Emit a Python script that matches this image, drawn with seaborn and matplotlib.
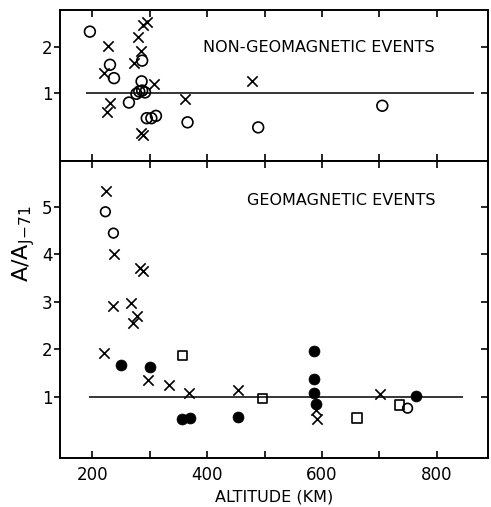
import matplotlib
matplotlib.use("Agg")
import matplotlib.pyplot as plt
import seaborn as sns
import pandas as pd

# ---------------- data ----------------
# Non-geomagnetic events (top panel)
top_cross_alt = [227, 279, 288, 295, 285, 272, 220, 307, 231, 226, 285, 289, 362, 478]
top_cross_val = [2.02, 2.22, 2.48, 2.53, 1.90, 1.65, 1.44, 1.20, 0.79, 0.59, 0.12, 0.09, 0.87, 1.25]
top_circle_alt = [196, 287, 231, 238, 286, 277, 282, 287, 292, 264, 295, 303, 311, 366, 489, 705]
top_circle_val = [2.33, 1.70, 1.61, 1.32, 1.25, 0.98, 1.03, 1.05, 1.01, 0.79, 0.45, 0.45, 0.50, 0.36, 0.25, 0.72]

# Geomagnetic events (bottom panel)
bot_cross_alt = [224, 238, 284, 288, 236, 267, 278, 271, 221, 298, 334, 368, 453, 590, 592, 701]
bot_cross_val = [5.33, 4.00, 3.72, 3.65, 2.92, 2.98, 2.70, 2.56, 1.92, 1.36, 1.24, 1.08, 1.15, 0.72, 0.53, 1.06]
bot_circle_alt = [223, 237, 749]
bot_circle_val = [4.90, 4.45, 0.76]
bot_dot_alt = [250, 301, 357, 370, 454, 586, 586, 586, 590, 764]
bot_dot_val = [1.68, 1.63, 0.53, 0.55, 0.57, 1.96, 1.37, 1.08, 0.85, 1.02]
bot_square_alt = [357, 497, 661, 735]
bot_square_val = [1.87, 0.97, 0.55, 0.83]

top_ref_x = [190, 865]
bot_ref_x = [195, 845]
ref_level = 1.0

x_ticks = [200, 300, 400, 500, 600, 700, 800]
x_labels = ["200", "", "400", "", "600", "", "800"]
top_yticks = [1, 2]
bot_yticks = [1, 2, 3, 4, 5]

top_title = "NON-GEOMAGNETIC EVENTS"
bot_title = "GEOMAGNETIC EVENTS"
x_title = "ALTITUDE (KM)"
y_title = r"A/A$_{\mathregular{J\!-\!71}}$"

# ---------------- figure ----------------
sns.set_theme(style="white")
plt.rcParams["font.family"] = ["DejaVu Sans"]

fig = plt.figure(figsize=(4.91, 5.07), dpi=100)
ax_top = fig.add_axes([60 / 491, 1 - 161 / 507, 428 / 491, 151 / 507])
ax_bot = fig.add_axes([60 / 491, 1 - 458 / 507, 428 / 491, 297 / 507])

def df(a, v):
    return pd.DataFrame({"alt": a, "val": v})

def cross(ax, a, v):
    sns.scatterplot(data=df(a, v), x="alt", y="val", ax=ax, marker="x", s=55,
                    color="black", linewidth=1.2, legend=False, zorder=3)

def open_circle(ax, a, v, s):
    sns.scatterplot(data=df(a, v), x="alt", y="val", ax=ax, marker="o", s=s,
                    facecolor="none", edgecolor="black", linewidth=1.2,
                    legend=False, zorder=3)

cross(ax_top, top_cross_alt, top_cross_val)
open_circle(ax_top, top_circle_alt, top_circle_val, 60)
ax_top.hlines(ref_level, top_ref_x[0], top_ref_x[1], color="black", linewidth=1.1, zorder=2)

cross(ax_bot, bot_cross_alt, bot_cross_val)
open_circle(ax_bot, bot_circle_alt, bot_circle_val, 48)
sns.scatterplot(data=df(bot_dot_alt, bot_dot_val), x="alt", y="val", ax=ax_bot,
                marker="o", s=62, color="black", edgecolor="black", linewidth=0.5,
                legend=False, zorder=3)
sns.scatterplot(data=df(bot_square_alt, bot_square_val), x="alt", y="val", ax=ax_bot,
                marker="s", s=45, facecolor="none", edgecolor="black", linewidth=1.2,
                legend=False, zorder=3)
ax_bot.hlines(ref_level, bot_ref_x[0], bot_ref_x[1], color="black", linewidth=1.1, zorder=2)

for ax in (ax_top, ax_bot):
    ax.set_xlim(144, 889)
    ax.set_xticks(x_ticks)
    for sp in ax.spines.values():
        sp.set_visible(True)
        sp.set_color("black")
        sp.set_linewidth(1.4)
    ax.tick_params(axis="x", which="both", direction="in", top=True, bottom=True,
                   length=5, width=1.2, color="black", labelsize=12, pad=6,
                   labelcolor="black")
    ax.tick_params(axis="y", which="both", direction="out", left=True, right=False,
                   length=4, width=1.2, color="black", labelsize=12, pad=1.5,
                   labelcolor="black")
    ax.set_xlabel("")
    ax.set_ylabel("")
    ax.set_facecolor("white")

ax_top.set_ylim(-0.48, 2.80)
ax_top.set_yticks(top_yticks)
ax_top.set_yticklabels([str(t) for t in top_yticks])
ax_top.set_xticklabels([])
ax_bot.set_ylim(-0.29, 5.97)
ax_bot.set_yticks(bot_yticks)
ax_bot.set_yticklabels([str(t) for t in bot_yticks])
ax_bot.set_xticklabels(x_labels)

# inward right-side ticks
for ax, ticks in ((ax_top, top_yticks), (ax_bot, bot_yticks)):
    sec = ax.secondary_yaxis("right")
    sec.set_yticks(ticks)
    sec.set_yticklabels([])
    sec.tick_params(direction="in", length=5, width=1.2, color="black")
    sec.spines["right"].set_visible(False)

ax_top.text(393, 1.98, top_title, fontsize=11.5, va="center", ha="left", color="black")
ax_bot.text(470, 5.14, bot_title, fontsize=11.5, va="center", ha="left", color="black")

ax_bot.set_xlabel(x_title, fontsize=11.5, color="black", labelpad=4)
fig.text(0.048, 0.52, y_title, rotation=90, fontsize=16, ha="center", va="center",
         color="black")

fig.savefig("out.png", dpi=100, facecolor="white")
